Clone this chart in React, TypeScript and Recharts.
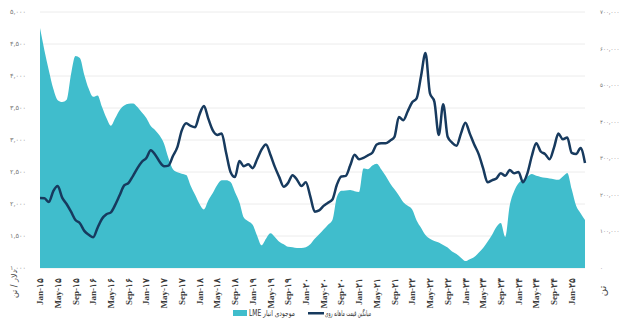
import React from 'react';
import { ComposedChart, Area, Line, XAxis, YAxis, CartesianGrid, Legend, Customized } from 'recharts';

const MONTHS = ['Jan', 'Feb', 'Mar', 'Apr', 'May', 'Jun', 'Jul', 'Aug', 'Sep', 'Oct', 'Nov', 'Dec'];
const YEARS = [15, 16, 17, 18, 19, 20, 21, 22, 23, 24, 25];
const MONTH_COUNT = 124; // Jan-15 .. Apr-25

// Monthly average zinc price (USD/t) — left axis
const priceValues = [
  2094, 2090, 2030, 2200, 2280, 2100, 2000, 1880, 1750, 1700, 1580, 1520,
  1480, 1630, 1770, 1840, 1870, 1990, 2140, 2290, 2330, 2440, 2560, 2660,
  2720, 2840, 2770, 2660, 2590, 2600, 2750, 2890, 3150, 3260, 3220, 3200,
  3400, 3530, 3330, 3150, 3080, 3100, 2800, 2500, 2420, 2670, 2590, 2620,
  2560, 2700, 2850, 2930, 2770, 2580, 2420, 2270, 2330, 2450, 2380, 2280,
  2340, 2120, 1880, 1900, 1970, 2020, 2070, 2300, 2430, 2440, 2600, 2770,
  2700, 2720, 2760, 2800, 2930, 2950, 2950, 2990, 3050, 3360, 3310, 3450,
  3590, 3650, 4000, 4360, 3730, 3600, 3080, 3560, 3050, 2960, 2910, 3100,
  3270, 3100, 2930, 2780, 2560, 2340, 2370, 2400, 2480, 2440, 2530, 2480,
  2500, 2340, 2480, 2750, 2950, 2820, 2780, 2700, 2880, 3100, 3010, 3040,
  2800, 2780, 2875, 2640,
];

// LME zinc stocks (tonnes) — right axis
const stockValues = [
  656000, 595000, 540000, 490000, 459000, 454000, 460000, 530000, 580000, 574000, 528000, 490000,
  468000, 472000, 440000, 410000, 389000, 410000, 432000, 444000, 449000, 450000, 440000, 425000,
  410000, 388000, 377000, 362000, 340000, 300000, 270000, 262000, 258000, 254000, 225000, 200000,
  175000, 160000, 185000, 205000, 227000, 240000, 240000, 235000, 208000, 180000, 138000, 128000,
  118000, 88000, 62000, 80000, 95000, 85000, 72000, 65000, 58000, 57000, 55000, 55000,
  57000, 65000, 80000, 92000, 105000, 118000, 131000, 194000, 211000, 212000, 213000, 210000,
  208000, 272000, 270000, 280000, 285000, 270000, 252000, 232000, 215000, 198000, 180000, 170000,
  160000, 130000, 110000, 90000, 80000, 74000, 70000, 63000, 56000, 45000, 38000, 28000,
  19000, 24000, 30000, 42000, 55000, 72000, 90000, 112000, 123000, 85000, 170000, 210000,
  232000, 241000, 250000, 257000, 252000, 249000, 247000, 245000, 243000, 241000, 250000, 260000,
  215000, 170000, 150000, 131000,
];

const leftTicks = [1000, 1500, 2000, 2500, 3000, 3500, 4000, 4500, 5000];
const rightTicks = [0, 100000, 200000, 300000, 400000, 500000, 600000, 700000];

const SERIES_PRICE = 'میانگین قیمت ماهانه روی';
const SERIES_STOCK = 'موجودی انبار LME';
const LEFT_UNIT = 'دلار / تن';
const RIGHT_UNIT = 'تن';

const fa = (s: string) => s.replace(/\d/g, (d) => '۰۱۲۳۴۵۶۷۸۹'[Number(d)]);
const fmt = (v: number) => fa(v.toLocaleString('en-US'));

const categories: string[] = [];
for (const y of YEARS) {
  for (const m of MONTHS) {
    if (categories.length < MONTH_COUNT) categories.push(`${m}-${fa(String(y))}`);
  }
}

const data = categories.map((c, i) => ({ month: c, price: priceValues[i], stock: stockValues[i] }));

const TEAL = '#40BDCC';
const NAVY = '#173A5E';
const FONT = "'DejaVu Sans', sans-serif";

const XTick = (props: any) => {
  const { x, y, payload } = props;
  return (
    <g transform={`translate(${x},${y})`}>
      <text transform="rotate(-90)" x={0} y={0} dy="0.35em" textAnchor="end" fill="#3a3a3a"
        fontSize={9} fontWeight="bold" fontFamily="'Liberation Serif', serif">
        {payload.value}
      </text>
    </g>
  );
};

const LegendContent = () => (
  <svg width={624} height={22} style={{ display: 'block' }}>
    <rect x={233} y={7} width={14} height={6} fill={TEAL} />
    <text x={249} y={13} fontSize={8} fill="#333" fontFamily={FONT} textLength={46} lengthAdjust="spacingAndGlyphs">
      {'\u202B' + SERIES_STOCK + '\u202C'}
    </text>
    <rect x={308} y={9} width={16} height={2.5} fill={NAVY} />
    <text x={325} y={13} fontSize={8} fill="#333" fontFamily={FONT} textLength={46} lengthAdjust="spacingAndGlyphs">
      {'\u202B' + SERIES_PRICE + '\u202C'}
    </text>
  </svg>
);

const Units = () => (
  <g>
    <text transform="translate(14,284) rotate(-90)" textAnchor="middle" dy="0.35em" fontSize={8}
      fill="#444" fontFamily={FONT}>{LEFT_UNIT}</text>
    <text transform="translate(602,291) rotate(-90)" textAnchor="middle" dy="0.35em" fontSize={10}
      fill="#444" fontFamily={FONT}>{RIGHT_UNIT}</text>
  </g>
);

export default function App() {
  return (
    <div style={{ position: 'absolute', left: 0, top: 0, width: 624, height: 325, background: '#fff' }}>
      <ComposedChart width={624} height={325} data={data} margin={{ top: 12, right: 0, bottom: 0, left: 0 }}>
        <CartesianGrid yAxisId="left" vertical={false} stroke="#ececec" />
        <XAxis dataKey="month" interval={3} tick={<XTick />} tickLine={false} axisLine={false}
          height={35} tickMargin={4} padding={{ left: 0, right: 0 }} />
        <YAxis yAxisId="left" orientation="left" domain={[1000, 5000]} ticks={leftTicks} width={40}
          tickFormatter={fmt} tickLine={false} axisLine={false} tickMargin={8}
          tick={{ fontSize: 6.5, fill: '#777', fontFamily: FONT }} interval={0} />
        <YAxis yAxisId="right" orientation="right" domain={[0, 700000]} ticks={rightTicks} width={39}
          tickFormatter={fmt} tickLine={false} axisLine={false} tickMargin={9}
          tick={{ fontSize: 5.5, fill: '#777', fontFamily: FONT }} interval={0} />
        <Area yAxisId="right" type="monotone" dataKey="stock" name={SERIES_STOCK} fill={TEAL}
          stroke="none" fillOpacity={1} isAnimationActive={false} dot={false} activeDot={false} />
        <Line yAxisId="left" type="monotone" dataKey="price" name={SERIES_PRICE} stroke={NAVY}
          strokeWidth={2.5} dot={false} activeDot={false} isAnimationActive={false} />
        <Legend verticalAlign="bottom" height={22} content={<LegendContent />} />
        <Customized component={Units} />
      </ComposedChart>
    </div>
  );
}
